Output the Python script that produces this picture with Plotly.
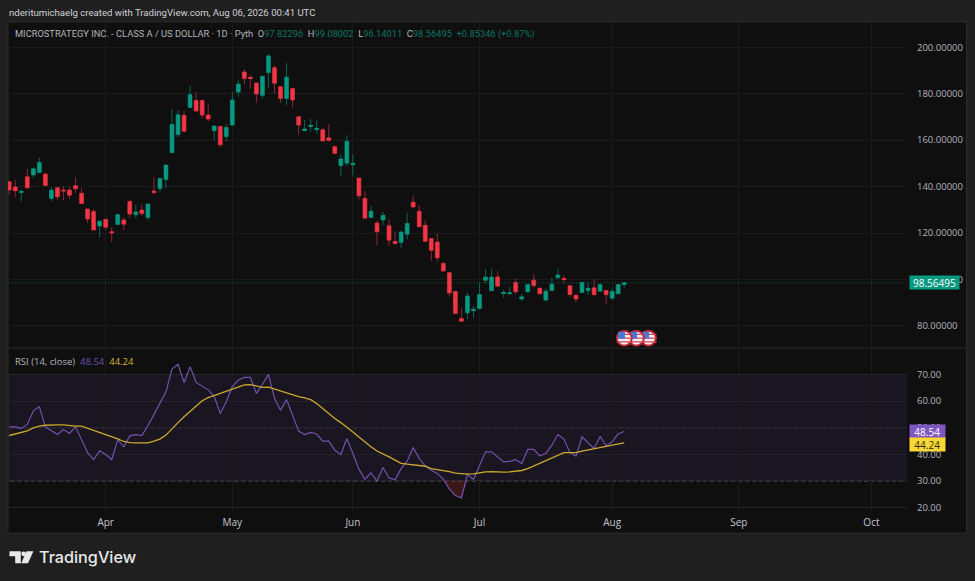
import plotly.graph_objects as go

WIDTH, HEIGHT = 975, 581
Y_FIT = 1.0056  # the photographed page comes out slightly shorter than the layout height

opens = [142.1,139.8,137.5,144.2,145.0,146.1,145.4,134.9,139.5,138.5,138.5,140.4,137.1,130.3,129.3,123.0,125.9,120.5,123.7,125.6,133.6,127.9,129.9,126.7,138.1,139.2,143.1,154.6,162.4,170.7,174.1,177.1,177.1,170.8,164.1,165.9,161.6,166.5,180.7,189.4,187.1,184.6,179.3,189.1,191.2,183.0,178.0,182.3,170.1,164.1,165.9,164.6,164.5,161.0,157.2,149.0,150.1,149.4,143.7,134.9,126.7,124.3,125.6,123.1,116.4,115.9,119.5,133.3,129.4,123.3,117.6,116.1,106.9,102.9,94.8,83.2,85.6,86.5,87.5,99.6,95.1,101.1,93.95,93.8,98.7,91.6,94.7,99.7,96.2,91.1,95.2,100.7,100.4,97.3,93.2,94.4,95.2,96.4,94.9,95.25,91.9,93.8,97.82296]
highs = [142.4,142.8,138.8,147.6,148.1,152.3,146.1,139.8,139.8,140.2,139.9,143.9,139.4,130.6,130.2,125.6,126.1,122.4,128.4,126.7,134.2,132.2,132.3,132.6,144.1,143.7,149.4,173.4,173.0,172.6,183.3,180.9,177.3,175.8,166.5,166.1,166.9,180.7,186.2,190.5,188.2,184.8,187.9,197.1,192.2,183.3,193.2,182.3,170.2,168.7,169.2,169.0,165.1,166.9,157.7,153.7,162.2,154.0,143.7,138.2,131.6,125.3,129.1,125.9,120.8,121.0,128.7,136.3,132.0,125.4,117.6,119.9,107.6,103.2,94.9,87.5,94.4,88.5,98.7,104.3,104.7,103.6,95.4,96.8,100.4,93.7,97.97,102.1,96.4,96.1,100.8,104.7,101.9,97.4,93.5,98.98,98.7,100.1,97.97,95.4,96.1,97.97,99.08002]
lows = [136.3,135.3,133.6,138.9,143.8,145.7,140.4,133.6,134.3,134.2,134.6,137.4,132.6,124.4,121.3,118.1,121.5,116.2,123.6,121.3,126.6,126.1,127.4,125.6,136.6,137.5,139.5,154.6,161.2,163.8,174.1,172.1,169.2,168.0,160.0,156.9,159.5,166.5,178.7,183.9,182.2,176.1,177.9,182.7,180.0,176.1,175.0,174.0,162.4,163.9,163.5,162.8,159.6,159.5,154.2,144.5,148.8,144.9,134.5,126.4,126.4,114.5,123.4,114.5,115.4,113.6,117.2,131.0,122.7,116.2,108.0,107.6,103.6,92.5,85.3,82.0,82.9,83.5,87.1,98.3,95.1,97.1,92.2,93.4,93.7,90.6,94.2,96.5,93.7,90.4,95.1,100.1,98.5,92.5,89.9,94.2,93.2,93.2,94.8,89.4,91.4,93.7,96.14011]
closes = [138.5,138.2,137.9,139.5,147.7,150.4,140.5,138.5,135.6,138.1,136.3,139.1,132.7,126.0,121.3,125.1,122.5,120.1,127.9,123.8,128.2,129.1,128.4,132.5,137.4,143.5,149.3,166.8,171.0,163.8,179.6,172.6,170.8,169.1,166.1,158.0,165.5,177.3,184.2,186.6,186.6,179.9,187.5,196.3,184.5,178.0,187.1,177.3,166.5,164.8,166.4,165.1,159.6,159.9,154.3,151.9,159.5,150.0,136.0,126.4,129.4,120.5,127.6,116.9,115.4,120.4,124.1,131.2,122.7,116.4,112.6,109.3,103.6,94.2,85.3,82.0,92.9,87.1,93.5,101.0,101.0,97.1,94.4,94.2,94.7,92.5,97.8,97.4,93.8,94.9,97.97,101.9,99.9,93.5,91.6,98.7,96.2,93.4,97.8,93.4,94.8,97.8,98.56495]
rsi = [50.3,50.3,49.7,51.2,56.3,57.9,50.3,48.7,47.4,49.3,47.8,50.3,45.5,40.6,38.0,41.3,39.9,38.0,45.5,42.8,46.9,47.4,47.05,50.7,54.9,59.5,63.5,72.0,73.8,66.9,72.9,67.0,65.7,64.2,61.8,55.3,59.7,65.4,67.9,68.9,68.9,62.85,66.2,70.0,61.0,56.5,60.6,54.3,48.7,47.4,48.2,47.6,44.9,44.9,41.5,39.9,45.9,40.3,34.4,30.6,33.0,29.9,35.0,31.1,30.4,34.6,37.4,42.5,38.4,35.6,34.0,32.8,30.6,26.9,24.5,23.6,32.4,30.5,35.6,40.9,40.9,39.0,37.1,37.3,38.0,36.5,41.8,41.8,39.4,40.3,43.4,47.4,45.7,40.6,39.3,46.5,44.4,42.2,46.7,43.2,44.7,47.7,48.54]
rsi_ma = [47.05,47.55,48.05,48.8,49.9,50.6,50.9,51.06,51.06,51.06,50.7,50.6,50.6,49.8,48.9,48.2,47.55,46.7,45.8,44.8,44.4,44.3,44.3,44.3,44.9,45.7,47.2,49.7,51.9,54.1,56.2,58.3,60.1,61.3,62.1,62.85,63.7,64.7,65.5,66.1,66.2,65.6,65.1,65.2,64.5,63.7,63.2,62.5,61.7,61.2,60.5,59.1,57.2,55.3,53.4,51.9,50.3,48.4,46.5,44.6,42.8,41.2,40.2,39.0,37.8,36.6,36.3,36.1,35.9,35.5,34.6,34.2,34.0,33.5,32.9,32.6,32.5,32.6,33.0,33.4,33.5,33.3,33.3,33.4,33.6,33.9,34.6,35.6,36.6,37.8,38.65,39.8,40.65,40.65,40.65,41.2,41.7,42.0,42.7,43.0,43.4,43.8,44.24]

month_labels = ["Apr", "May", "Jun", "Jul", "Aug", "Sep", "Oct"]
month_bars = [16, 37, 57, 78, 100, 121, 143]
flag_bars = [106, 104, 102]
flag_price = 74.7

GREEN, RED = "#089981", "#f23645"
GREEN_WICK, RED_WICK = "#0b6557", "#8f2633"
TEXT = "#b2b5bc"
GRID = "#1b1b1b"
BAND = "rgba(126,87,194,0.10)"
FONT = "Open Sans"

def px(x):
    return x / WIDTH

def py(y):
    return 1 - y * Y_FIT / HEIGHT

bars = list(range(len(closes)))
mids = [(o + c) / 2 for o, c in zip(opens, closes)]
fig = go.Figure()

# chart panel and pane divider go first so that everything else lies on top
fig.add_shape(type="rect", xref="paper", yref="paper", x0=px(8), x1=px(966.5), y0=py(533), y1=py(22),
              fillcolor="#0f0f0f", line=dict(color="#2c2c2c", width=1), layer="below")
fig.add_shape(type="line", xref="paper", yref="paper", x0=px(8), x1=px(966.5), y0=py(348), y1=py(348),
              line=dict(color="#2c2c2c", width=1), layer="below")

# wicks, then bodies on top so they can carry different colours
fig.add_trace(go.Candlestick(x=bars, open=mids, high=highs, low=lows,
    close=[m + (1e-4 if c >= o else -1e-4) for m, o, c in zip(mids, opens, closes)],
    increasing=dict(line=dict(color=GREEN_WICK, width=1), fillcolor=GREEN_WICK),
    decreasing=dict(line=dict(color=RED_WICK, width=1), fillcolor=RED_WICK),
    whiskerwidth=0, hoverinfo="skip", showlegend=False))
fig.add_trace(go.Candlestick(x=bars, open=opens, close=closes,
    high=[max(o, c) for o, c in zip(opens, closes)], low=[min(o, c) for o, c in zip(opens, closes)],
    increasing=dict(line=dict(color=GREEN, width=0.6), fillcolor=GREEN),
    decreasing=dict(line=dict(color=RED, width=0.6), fillcolor=RED),
    whiskerwidth=0, hoverinfo="skip", showlegend=False))

# last price line
fig.add_trace(go.Scatter(x=[-1, 160], y=[closes[-1]] * 2, mode="lines", hoverinfo="skip",
    line=dict(color=GREEN, width=1, dash="1px,2px"), opacity=0.6, showlegend=False))

# event flags
for b in flag_bars:
    fig.add_trace(go.Scatter(x=[b], y=[flag_price], mode="markers", hoverinfo="skip", showlegend=False,
        marker=dict(size=15, color="#f0eef2", line=dict(color="#b3202f", width=2))))
    fig.add_trace(go.Scatter(x=[b + 0.2] * 3, y=[flag_price + 1.6, flag_price, flag_price - 1.6], mode="markers",
        hoverinfo="skip", showlegend=False,
        marker=dict(size=10, symbol="line-ew", line=dict(color="#d8404c", width=1.3))))
    fig.add_trace(go.Scatter(x=[b - 0.45], y=[flag_price + 1.3], mode="markers", hoverinfo="skip", showlegend=False,
        marker=dict(size=7, symbol="square", color="#4a78d8")))

# RSI pane
fig.add_hrect(y0=30, y1=70, xref="x2", yref="y2", fillcolor=BAND, line_width=0, layer="below")
for lvl in (70, 50, 30):
    fig.add_shape(type="line", xref="x2", yref="y2", x0=-1, x1=160, y0=lvl, y1=lvl,
                  line=dict(color="#8a8d98", width=1, dash="4px,3px"), layer="below")
fig.add_trace(go.Scatter(x=bars, y=[30] * len(bars), xaxis="x2", yaxis="y2", mode="lines",
    line=dict(width=0), hoverinfo="skip", showlegend=False))
fig.add_trace(go.Scatter(x=bars, y=[min(v, 30) for v in rsi], xaxis="x2", yaxis="y2", mode="lines",
    line=dict(width=0), fill="tonexty", fillcolor="rgba(242,54,69,0.2)", hoverinfo="skip", showlegend=False))
fig.add_trace(go.Scatter(x=bars, y=rsi, xaxis="x2", yaxis="y2", mode="lines",
    line=dict(color="#7250ad", width=1.2), hoverinfo="skip", showlegend=False))
fig.add_trace(go.Scatter(x=bars, y=rsi_ma, xaxis="x2", yaxis="y2", mode="lines",
    line=dict(color="#cda92c", width=1.3), hoverinfo="skip", showlegend=False))

x_range = [-0.2, 148.9]
x_dom = [px(8), px(907)]
common_x = dict(range=x_range, domain=x_dom, showgrid=True, gridcolor=GRID, gridwidth=1, zeroline=False,
                tickmode="array", tickvals=month_bars, ticktext=month_labels, ticks="", showline=False)
fig.update_layout(
    width=WIDTH, height=HEIGHT, margin=dict(l=0, r=0, t=0, b=0),
    paper_bgcolor="#1f1f1f", plot_bgcolor="rgba(0,0,0,0)", showlegend=False, boxgap=0.08,
    font=dict(family=FONT, color=TEXT, size=10),
    xaxis=dict(common_x, anchor="y", showticklabels=False, rangeslider=dict(visible=False)),
    xaxis2=dict(common_x, anchor="y2", matches="x", showticklabels=True,
                tickfont=dict(family=FONT, size=10, color="#c4c6cc"), ticklabelstandoff=4),
    yaxis=dict(domain=[py(348), py(22)], range=[70.4, 210.9], side="right", anchor="x",
               tick0=0, dtick=20, tickformat=".5f", showgrid=True, gridcolor=GRID, zeroline=False,
               ticks="", ticklabelstandoff=9, tickfont=dict(family=FONT, size=9.5, color=TEXT)),
    yaxis2=dict(domain=[py(511), py(349)], range=[18.6, 79.5], side="right", anchor="x2",
                tick0=0, dtick=10, tickformat=".2f", showgrid=True, gridcolor="#24222a", zeroline=False,
                ticks="", ticklabelstandoff=9, tickfont=dict(family=FONT, size=9.5, color=TEXT)),
)

# TradingView logo glyph
def poly(points):
    return "M " + " L ".join(f"{px(x):.5f} {py(y):.5f}" for x, y in points) + " Z"
fig.add_shape(type="path", xref="paper", yref="paper", fillcolor="#e8e8e8", line_width=0,
              path=poly([(9.5, 551), (20.8, 551), (20.8, 563), (15.2, 563), (15.2, 556), (9.5, 556)]))
fig.add_shape(type="path", xref="paper", yref="paper", fillcolor="#e8e8e8", line_width=0,
              path=poly([(26.5, 551), (33.4, 551), (28, 563), (21.2, 563)]))
fig.add_shape(type="circle", xref="paper", yref="paper", fillcolor="#e8e8e8", line_width=0,
              x0=px(21.3), x1=px(26), y0=py(556), y1=py(551.2))

def note(x, y, text, size, color=TEXT, family=FONT, **kw):
    fig.add_annotation(xref="paper", yref="paper", x=px(x), y=py(y), text=text, showarrow=False,
                       xanchor="left", yanchor="middle", font=dict(family=family, size=size, color=color, **kw),
                       borderpad=0)

VAL = "#0a7565"
def span(t, c):
    return f'<span style="color:{c}">{t}</span>'

note(8, 12, "nderitumichaelg created with TradingView.com, Aug 06, 2026 00:41 UTC", 9.6, "#cfd1d6", family="Roboto")
note(14, 33.5,
     "MICROSTRATEGY INC. - CLASS A / US DOLLAR · 1D · Pyth  O" + span("97.82296", VAL) + "  H" + span("99.08002", VAL)
     + "  L" + span("96.14011", VAL) + "  C" + span("98.56495", VAL) + "  " + span("+0.85346 (+0.87%)", VAL), 9.3, family="Roboto")
note(14, 361, "RSI (14, close)  " + span("48.54", "#6f4fb0") + "  " + span("44.24", "#d8b52c"), 9.5)
note(38, 557, "TradingView", 16.2, "#e8e8e8", family="Inter", weight=500)

# last value badges
def badge(yref, y, text, bg, fg, w):
    fig.add_annotation(xref="paper", yref=yref, x=px(909.3), y=y, text=text, showarrow=False, xanchor="left",
                       yanchor="middle", bgcolor=bg, borderpad=0, width=w, height=13, align="center",
                       font=dict(family=FONT, size=10, color=fg))

badge("y", closes[-1], "98.56495", "#089981", "#ffffff", 49)
badge("y2", 48.4, "48.54", "#7e57c2", "#ffffff", 34.5)
badge("y2", 43.5, "44.24", "#fdd835", "#2a2a12", 34.5)

fig.write_html("out.html", config={"displayModeBar": False},
               post_script="document.documentElement.style.overflow='hidden';document.body.style.cssText='margin:0;overflow:hidden;height:581px;background:#1f1f1f';"
                           "var g=document.querySelector('.plotly-graph-div');g.style.display='block';")
